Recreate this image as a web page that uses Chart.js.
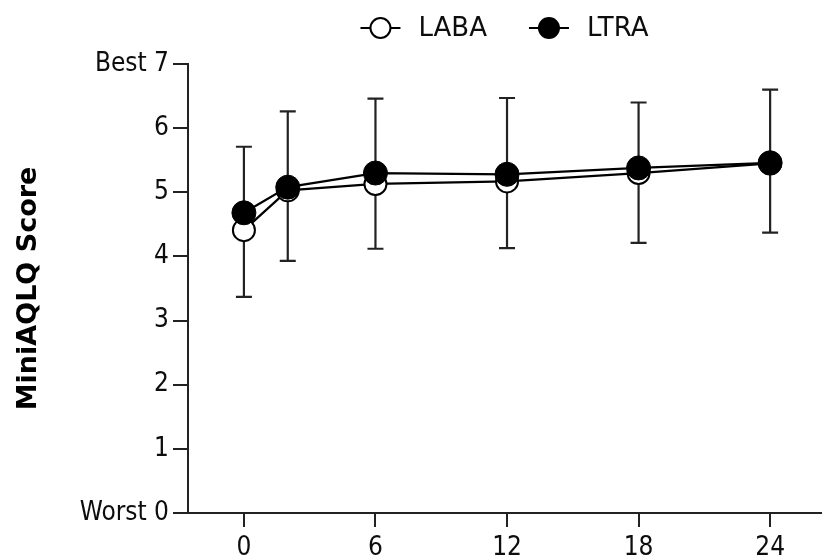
<!DOCTYPE html>
<html>
<head>
<meta charset="utf-8">
<title>MiniAQLQ Score</title>
<script src="https://cdn.jsdelivr.net/npm/chart.js@4"></script>
<style>
  html, body { margin: 0; padding: 0; background: #fff; }
  #wrap { width: 834px; height: 560px; position: relative; }
</style>
</head>
<body>
<div id="wrap"><canvas id="chart"></canvas></div>
<script>
// months of follow-up and mean scores per group
const months = [0, 2, 6, 12, 18, 24];
const labaMean = [4.41, 5.03, 5.13, 5.17, 5.30, 5.45];
const ltraMean = [4.68, 5.08, 5.30, 5.28, 5.38, 5.46];
// standard deviations (LTRA drawn upward, LABA downward)
const ltraSd = [1.03, 1.18, 1.16, 1.19, 1.02, 1.14];
const labaSd = [1.04, 1.10, 1.01, 1.04, 1.09, 1.08];
const xTicks = [0, 6, 12, 18, 24];
const yTickLabels = { 0: 'Worst 0', 7: 'Best 7' };

const ink = '#0d0d0d';
const fontFamily = '"DejaVu Sans Condensed", "DejaVu Sans", sans-serif';
const titleFamily = '"DejaVu Sans", sans-serif';

// one-sided error bars drawn under the markers
const errorBars = {
  id: 'errorBars',
  beforeDatasetsDraw(chart) {
    const { ctx, scales: { x, y } } = chart;
    ctx.save();
    ctx.strokeStyle = '#222';
    ctx.lineWidth = 2.2;
    const cap = 8;
    months.forEach((m, i) => {
      const px = x.getPixelForValue(m);
      const top = y.getPixelForValue(ltraMean[i] + ltraSd[i]);
      const bottom = y.getPixelForValue(labaMean[i] - labaSd[i]);
      ctx.beginPath();
      ctx.moveTo(px, top); ctx.lineTo(px, bottom);
      ctx.moveTo(px - cap, top); ctx.lineTo(px + cap, top);
      ctx.moveTo(px - cap, bottom); ctx.lineTo(px + cap, bottom);
      ctx.stroke();
    });
    ctx.restore();
  }
};

// legend row: line-through-marker icon followed by the series name
const lineLegend = {
  id: 'lineLegend',
  afterDraw(chart) {
    const { ctx, chartArea } = chart;
    const iconW = 40, gap = 18, itemGap = 42, cy = 28;
    ctx.save();
    ctx.font = '26px ' + titleFamily;
    ctx.textBaseline = 'middle';
    const items = chart.data.datasets.map(ds => ({
      ds, w: iconW + gap + ctx.measureText(ds.label).width
    }));
    const total = items.reduce((s, it) => s + it.w, 0) + itemGap * (items.length - 1);
    let x = (chartArea.left + chartArea.right) / 2 - total / 2;
    items.forEach(({ ds, w }) => {
      ctx.strokeStyle = '#000';
      ctx.lineWidth = 2;
      ctx.beginPath();
      ctx.moveTo(x, cy); ctx.lineTo(x + iconW, cy);
      ctx.stroke();
      ctx.beginPath();
      ctx.arc(x + iconW / 2, cy, 10, 0, Math.PI * 2);
      ctx.fillStyle = ds.pointBackgroundColor;
      ctx.fill();
      ctx.stroke();
      ctx.fillStyle = ink;
      ctx.fillText(ds.label, x + iconW + gap, cy + 1);
      x += w + itemGap;
    });
    ctx.restore();
  }
};

new Chart(document.getElementById('chart'), {
  type: 'line',
  data: {
    datasets: [
      {
        label: 'LABA',
        data: months.map((m, i) => ({ x: m, y: labaMean[i] })),
        borderColor: '#000',
        borderWidth: 2.2,
        pointRadius: 11,
        pointBorderWidth: 2,
        pointBackgroundColor: '#fff',
        pointBorderColor: '#000',
        order: 2
      },
      {
        label: 'LTRA',
        data: months.map((m, i) => ({ x: m, y: ltraMean[i] })),
        borderColor: '#000',
        borderWidth: 2.2,
        pointRadius: 12,
        pointBorderWidth: 1,
        pointBackgroundColor: '#000',
        pointBorderColor: '#000',
        order: 1
      }
    ]
  },
  options: {
    responsive: true,
    maintainAspectRatio: false,
    animation: false,
    layout: { padding: { top: 64, right: 0, left: 0, bottom: 0 } },
    elements: { line: { tension: 0 } },
    plugins: {
      tooltip: { enabled: false },
      legend: { display: false }
    },
    scales: {
      x: {
        type: 'linear',
        min: -2.55,
        max: 26.32,
        afterBuildTicks(scale) {
          scale.ticks = xTicks.map(v => ({ value: v }));
        },
        afterFit(scale) { scale.height = 47; },
        border: { display: true, color: '#222', width: 2 },
        grid: { drawOnChartArea: false, drawTicks: true, tickLength: 14, color: '#222', lineWidth: 2 },
        ticks: {
          color: ink,
          padding: 6,
          maxRotation: 0,
          font: { family: fontFamily, size: 26 }
        }
      },
      y: {
        min: 0,
        max: 7,
        afterFit(scale) { scale.width = 188; },
        border: { display: true, color: '#222', width: 2 },
        grid: { drawOnChartArea: false, drawTicks: true, tickLength: 15, color: '#222', lineWidth: 2 },
        ticks: {
          stepSize: 1,
          color: ink,
          padding: 4,
          font: { family: fontFamily, size: 26 },
          callback: v => yTickLabels[v] !== undefined ? yTickLabels[v] : v
        },
        title: {
          display: true,
          text: 'MiniAQLQ Score',
          color: '#000',
          padding: { top: 13, bottom: 0 },
          font: { family: titleFamily, size: 27, weight: 'bold' }
        }
      }
    }
  },
  plugins: [errorBars, lineLegend]
});
</script>
</body>
</html>
